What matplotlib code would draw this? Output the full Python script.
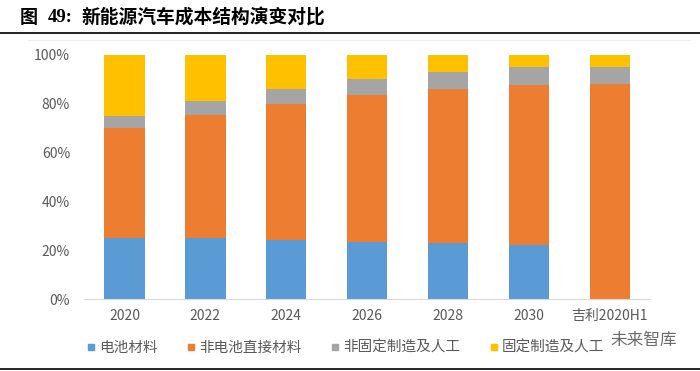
import numpy as np
import matplotlib.pyplot as plt
from matplotlib.lines import Line2D

plt.rcParams['font.family'] = ['Noto Sans CJK SC', 'DejaVu Sans']

# data
categories = ['2020', '2022', '2024', '2026', '2028', '2030', '吉利2020H1']
battery = [25, 25, 24, 23.5, 23, 22, 0]
non_battery_direct = [45, 50.5, 56, 60, 63, 65.7, 88]
variable_mfg = [5, 5.5, 6, 6.5, 7, 7.5, 7]
fixed_mfg = [25, 19, 14, 10, 7, 4.8, 5]
series_names = ['电池材料', '非电池直接材料', '非固定制造及人工', '固定制造及人工']
colors = ['#5B9BD5', '#ED7D31', '#A5A5A5', '#FFC000']

fig = plt.figure(figsize=(7, 3.71), dpi=100)
ax = fig.add_axes([0.12, 0.194, 0.809, 0.658])

x = np.arange(len(categories))
bottom = np.zeros(len(categories))
for vals, c, name in zip([battery, non_battery_direct, variable_mfg, fixed_mfg], colors, series_names):
    ax.bar(x, vals, 0.5, bottom=bottom, color=c, label=name, zorder=2)
    bottom += np.array(vals)

ax.set_xlim(-0.5, 6.5)
ax.set_ylim(0, 100)
ax.set_yticks(range(0, 101, 20))
ax.set_yticklabels([f'{v}%' for v in range(0, 101, 20)])
ax.set_xticks(x)
ax.set_xticklabels(categories)
ax.tick_params(length=0, colors='#595959', labelsize=10)
ax.tick_params(axis='x', pad=7)
ax.tick_params(axis='y', pad=10)
for s in ['top', 'right', 'left']:
    ax.spines[s].set_visible(False)
ax.spines['bottom'].set_color('#D9D9D9')

# legend
handles = [Line2D([], [], marker='s', linestyle='', color=c, markersize=5) for c in colors]
fig.legend(handles, series_names, loc='center left', bbox_to_anchor=(0.105, 0.062),
           ncol=4, frameon=False, fontsize=10.5, handlelength=0.6, handletextpad=0.25,
           columnspacing=2.0, labelcolor='#595959')

# title and rules
fig.text(0.028, 0.953, '图', fontsize=13, fontweight='bold', va='center', ha='left')
fig.text(0.068, 0.953, '49:', fontsize=13.5, fontweight='bold', va='center', ha='left',
         family='Liberation Serif')
fig.text(0.117, 0.953, '新能源汽车成本结构演变对比', fontsize=13.5, fontweight='bold',
         va='center', ha='left')
fig.add_artist(Line2D([0.0, 1.0], [0.91, 0.91], color='black', lw=1.2))
fig.add_artist(Line2D([0.04, 0.985], [0.892, 0.892], color='#EEEEEE', lw=0.8))
fig.add_artist(Line2D([0.0, 1.0], [0.006, 0.006], color='black', lw=1.2))

# watermark
fig.text(0.872, 0.083, '未来智库', fontsize=12, color='#505050', alpha=0.85, ha='left', va='center')

fig.savefig('out.png', dpi=100)
